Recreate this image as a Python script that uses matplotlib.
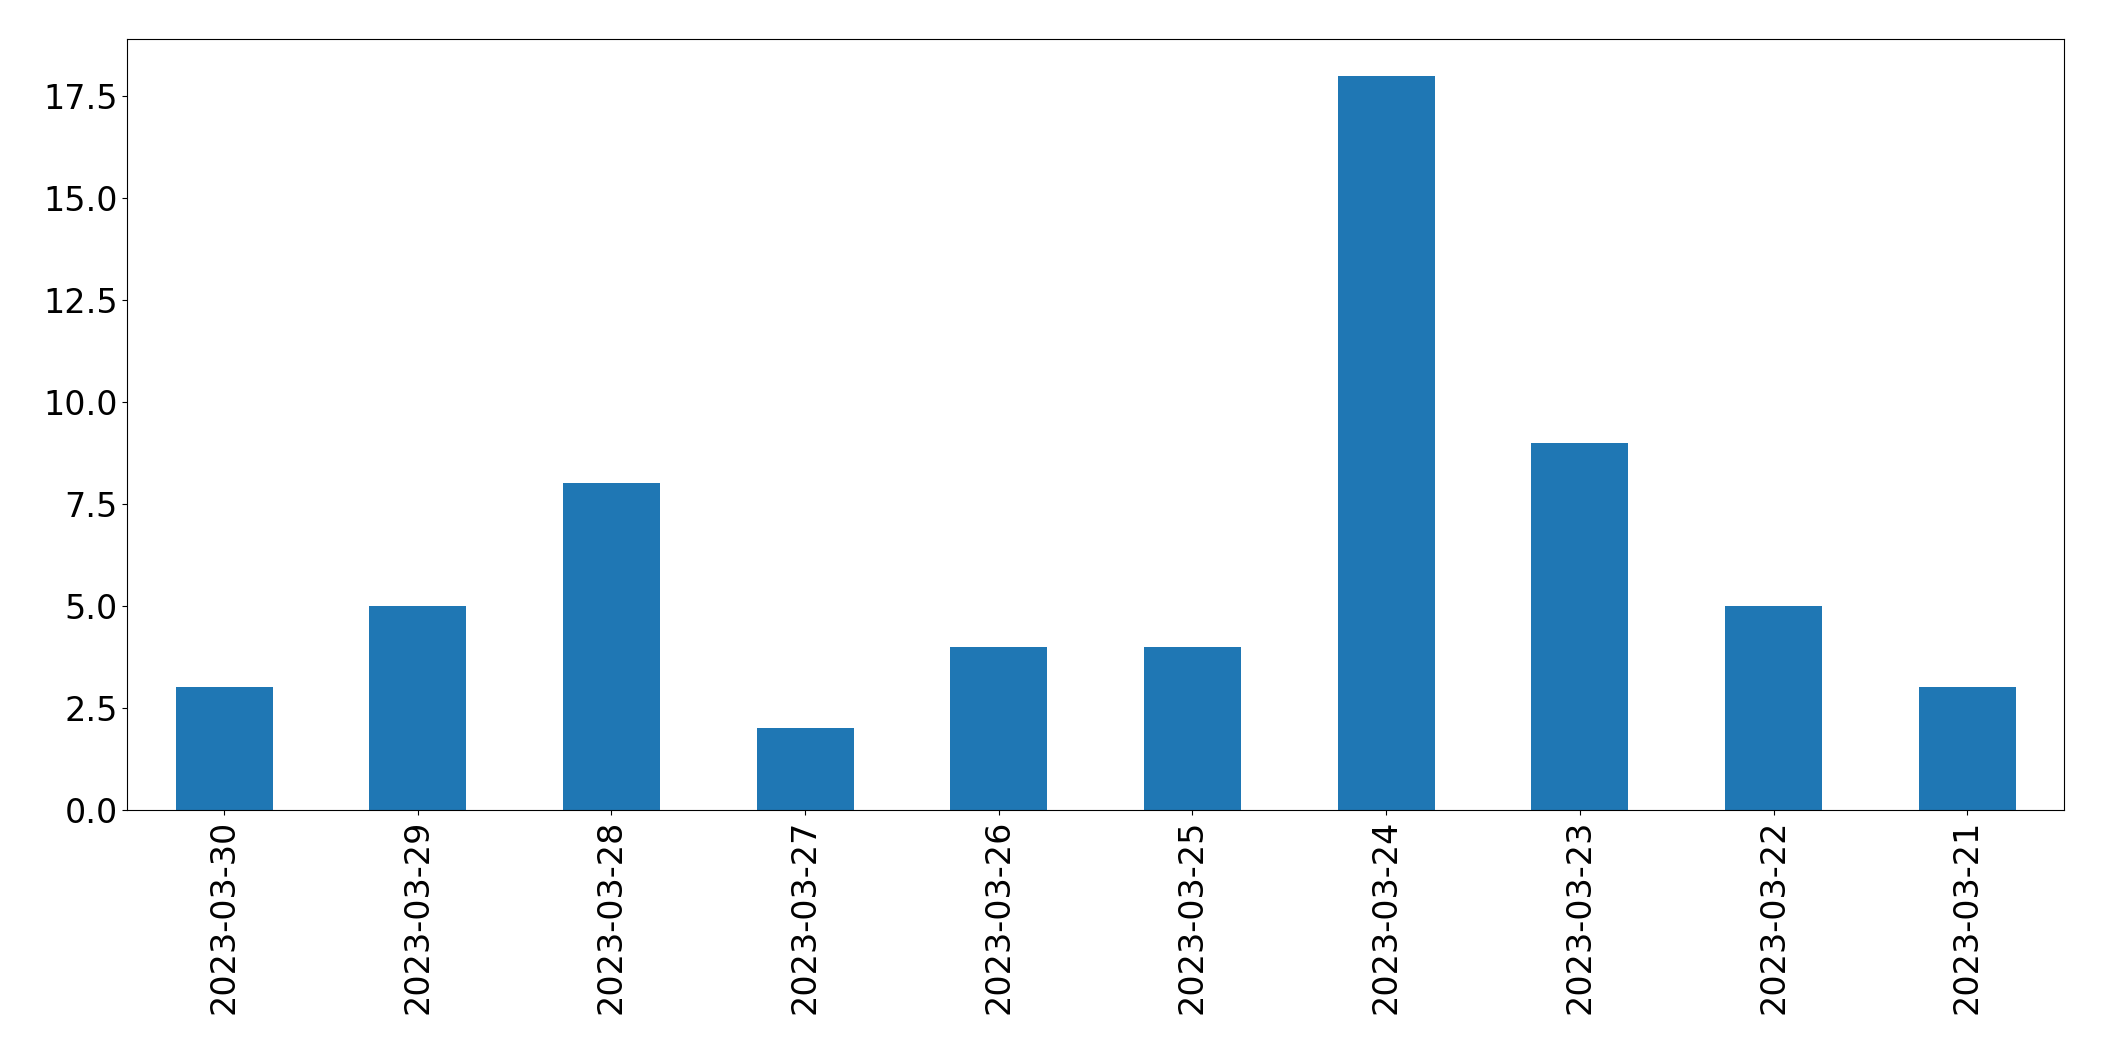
import matplotlib
matplotlib.use("Agg")
import matplotlib.pyplot as plt

fechas = ["2023-03-30", "2023-03-29", "2023-03-28", "2023-03-27", "2023-03-26",
          "2023-03-25", "2023-03-24", "2023-03-23", "2023-03-22", "2023-03-21"]
cuentas = [3, 5, 8, 2, 4, 4, 18, 9, 5, 3]

fig = plt.figure(figsize=(21.04, 10.61), dpi=100)
ax = fig.add_axes([0.0605, 0.237, 0.9205, 0.726])
x = range(len(fechas))
ax.bar(x, cuentas, width=0.5, color="#1f77b4")
ax.set_xlim(-0.5, len(fechas) - 0.5)
ax.set_ylim(0, 18.9)
ax.set_xticks(list(x))
ax.set_xticklabels(fechas, rotation=90)
ax.tick_params(labelsize=24)
fig.savefig("out.png", dpi=100)
